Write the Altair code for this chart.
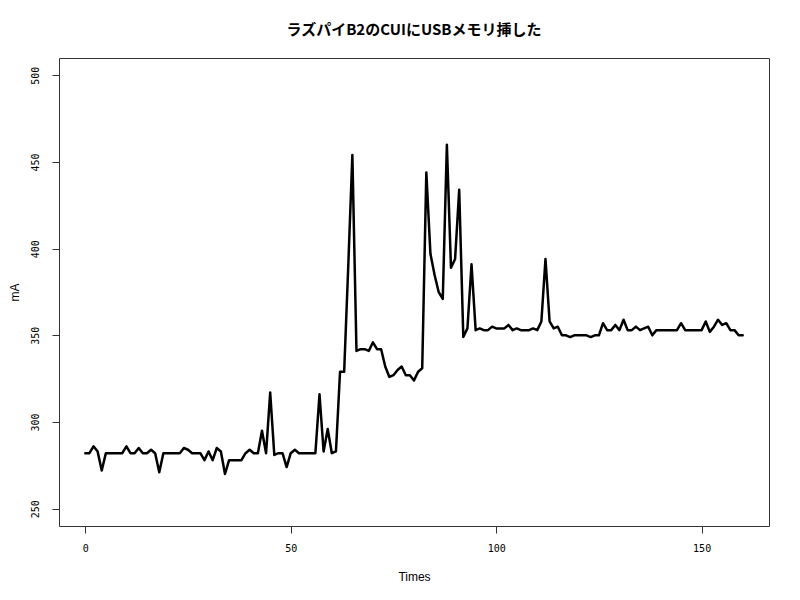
import altair as alt
import pandas as pd

title_text = "ラズパイB2のCUIにUSBメモリ挿した"
x_label = "Times"
y_label = "mA"
x_ticks = [0, 50, 100, 150]
y_ticks = [250, 300, 350, 400, 450, 500]

values = [
    282, 282, 286, 283, 272, 282, 282, 282, 282, 282,
    286, 282, 282, 285, 282, 282, 284, 282, 271, 282,
    282, 282, 282, 282, 285, 284, 282, 282, 282, 278,
    283, 278, 285, 283, 270, 278, 278, 278, 278, 282,
    284, 282, 282, 295, 282, 317, 281, 282, 282, 274,
    282, 284, 282, 282, 282, 282, 282, 316, 283, 296,
    282, 283, 329, 329, 390, 454, 341, 342, 342, 341,
    346, 342, 342, 332, 326, 327, 330, 332, 327, 327,
    324, 329, 331, 444, 397, 385, 375, 371, 460, 389,
    394, 434, 349, 354, 391, 353, 354, 353, 353, 355,
    354, 354, 354, 356, 353, 354, 353, 353, 353, 354,
    353, 358, 394, 358, 354, 355, 350, 350, 349, 350,
    350, 350, 350, 349, 350, 350, 357, 353, 353, 356,
    353, 359, 353, 353, 355, 353, 354, 355, 350, 353,
    353, 353, 353, 353, 353, 357, 353, 353, 353, 353,
    353, 358, 352, 355, 359, 356, 357, 353, 353, 350,
    350,
]
times = list(range(len(values)))

df = pd.DataFrame({"t": times, "mA": values})

W, H = 710, 468

chart = (
    alt.Chart(df)
    .mark_line(color="black", strokeWidth=2.5, strokeJoin="round", strokeCap="round")
    .encode(
        x=alt.X(
            "t:Q",
            scale=alt.Scale(domain=[-6.4, 166.4], nice=False, zero=False),
            axis=alt.Axis(
                title=x_label,
                values=x_ticks,
                labelFont="DejaVu Sans Mono",
                labelFontSize=10,
                labelPadding=10,
                titleFont="Liberation Sans",
                titleFontSize=12,
                titleFontWeight="normal",
                titleX=W / 2,
                titleY=50,
                titleAlign="center",
                titleBaseline="middle",
            ),
        ),
        y=alt.Y(
            "mA:Q",
            scale=alt.Scale(domain=[240, 510], nice=False, zero=False),
            axis=alt.Axis(
                title=y_label,
                values=y_ticks,
                labelAngle=270,
                labelAlign="center",
                labelBaseline="bottom",
                labelFont="DejaVu Sans Mono",
                labelFontSize=10,
                labelPadding=12,
                titleFont="Liberation Sans",
                titleFontSize=12,
                titleFontWeight="normal",
                titleX=-45,
                titleY=H / 2,
                titleAngle=270,
                titleAlign="center",
                titleBaseline="middle",
            ),
        ),
    )
    .properties(
        width=W,
        height=H,
        autosize=alt.AutoSizeParams(type="none"),
        padding={"left": 51, "top": 50, "right": 23, "bottom": 66},
        title=alt.TitleParams(
            title_text,
            font="Noto Sans CJK JP",
            fontSize=15,
            fontWeight="bold",
            anchor="middle",
            color="black",
            offset=20,
        ),
    )
    .configure_view(stroke="#333333", strokeWidth=1)
    .configure_axis(
        domain=False,
        grid=False,
        tickColor="#333333",
        tickSize=7,
        labelColor="black",
        titleColor="black",
    )
)

chart.save("out.html", embed_options={"renderer": "svg", "actions": False})
